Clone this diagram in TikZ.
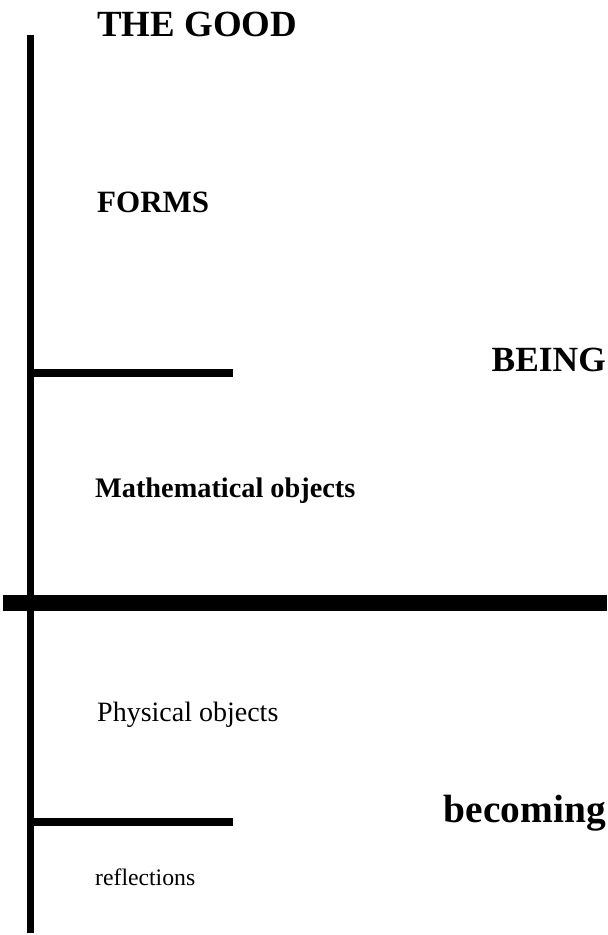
\documentclass[tikz,border=0pt]{standalone}
\usepackage{fontspec}
\setmainfont{Liberation Serif}
\usetikzlibrary{positioning}

\begin{document}
\begin{tikzpicture}[
            x=1pt, y=-1pt,
            bar/.style={line width=7pt},
            tick/.style={line width=8pt},
            divide/.style={line width=16pt},
            level/.style={inner sep=0pt, anchor=base west, font=\bfseries},
            lower/.style={inner sep=0pt, anchor=base west},
            realm/.style={inner sep=0pt, anchor=base east, font=\bfseries}
        ]
            \useasboundingbox (0,0) rectangle (608,935);

% --- the vertical line and its ticks ---
            \coordinate (top)  at (30,35);
            \coordinate (bot)  at (30,933);
            \coordinate (up)   at (30,373);
            \coordinate (upR)  at (233,373);
            \coordinate (lo)   at (30,822);
            \coordinate (loR)  at (233,822);
            \coordinate (divL) at (3,603);
            \coordinate (divR) at (607,603);

            \draw[bar]    (top)  -- (bot);
            \draw[tick]   (up)   -- (upR);
            \draw[tick]   (lo)   -- (loR);
            \draw[divide] (divL) -- (divR);

% --- the levels ---
            \node[level, font=\bfseries\fontsize{36.9}{40}\selectfont] (good) at (97,36)  {THE GOOD};
            \node[level, font=\bfseries\fontsize{31}{34}\selectfont]   (forms) at (97,212) {FORMS};
            \node[level, font=\bfseries\fontsize{28.3}{31}\selectfont] (math) at (95,497)  {Mathematical objects};
            \node[lower, font=\fontsize{28}{31}\selectfont]            (phys) at (97,721)  {Physical objects};
            \node[lower, font=\fontsize{23.7}{26}\selectfont]          (refl) at (95,885)  {reflections};

% --- the two realms ---
            \node[realm, font=\bfseries\fontsize{35.4}{38}\selectfont] (being)    at (606,371) {BEING};
            \node[realm, font=\bfseries\fontsize{39.4}{42}\selectfont] (becoming) at (606,822) {becoming};
        \end{tikzpicture}
\end{document}
